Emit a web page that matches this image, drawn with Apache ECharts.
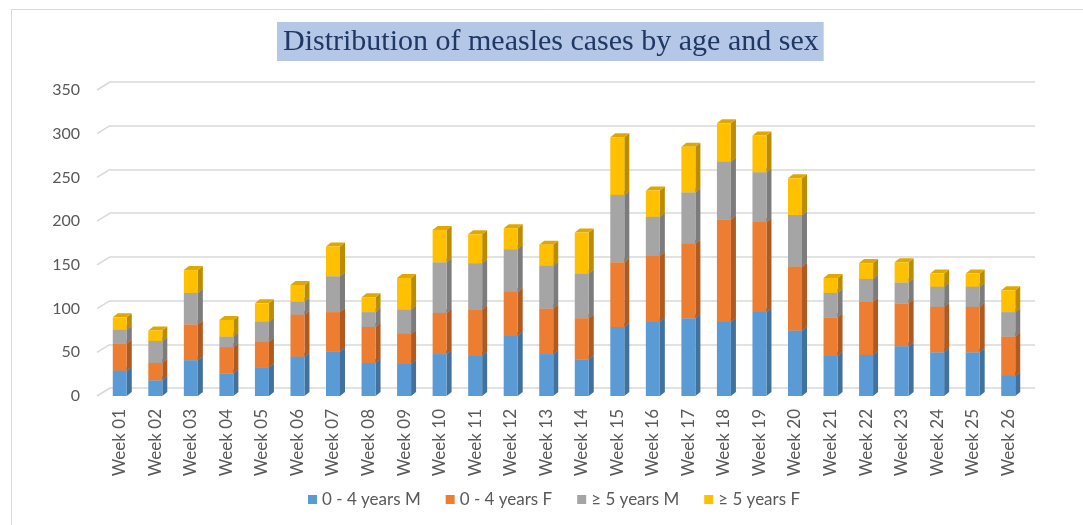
<!DOCTYPE html>
<html><head><meta charset="utf-8">
<script src="https://cdn.jsdelivr.net/npm/echarts@6/dist/echarts.min.js"></script>
<style>html,body{margin:0;padding:0;background:#fff}#c{width:1083px;height:525px}</style>
</head><body><div id="c"></div>
<script>
const categories = ['Week 01','Week 02','Week 03','Week 04','Week 05','Week 06','Week 07','Week 08','Week 09','Week 10','Week 11','Week 12','Week 13','Week 14','Week 15','Week 16','Week 17','Week 18','Week 19','Week 20','Week 21','Week 22','Week 23','Week 24','Week 25','Week 26'];
const seriesNames = ['0 - 4 years M','0 - 4 years F','≥ 5 years M','≥ 5 years F'];
const under5Male   = [29,18,41,26,33,45,51,38,37,48,46,69,48,42,79,85,89,85,96,75,46,47,57,50,50,23];
const under5Female = [31,20,41,30,29,48,45,41,34,47,53,50,52,47,74,75,85,117,103,73,44,61,49,52,52,45];
const over5Male    = [16,25,36,12,23,15,41,17,28,58,53,49,49,51,77,45,59,66,57,59,28,26,24,23,23,28];
const over5Female  = [14,12,26,19,21,19,34,17,36,37,33,24,24,47,66,30,52,44,42,42,17,18,23,15,15,25];
const yTicks = [0,50,100,150,200,250,300,350];

const seriesValues = [under5Male, under5Female, over5Male, over5Female];
const frontColors = ['#5b9bd5','#ed7d31','#a5a5a5','#ffc000'];
const sideColors  = ['#41719c','#ae5a21','#7c7c7c','#bc8c00'];
const topColors   = ['#4a86bd','#d06d29','#929292','#dea800'];
const FONT = 'Lato';

function makeRender(front, side, top) {
  return function (params, api) {
    const i = api.value(0);
    const b = api.coord([i, api.value(1)]);
    const t = api.coord([i, api.value(2)]);
    const w = 14, dx = 5, dy = 4;
    const x0 = b[0] - w / 2, x1 = b[0] + w / 2;
    return {
      type: 'group',
      children: [
        { type: 'polygon', shape: { points: [[x1, t[1]], [x1 + dx, t[1] - dy], [x1 + dx, b[1] - dy], [x1, b[1]]] }, style: { fill: side } },
        { type: 'polygon', shape: { points: [[x0, t[1]], [x0 + dx, t[1] - dy], [x1 + dx, t[1] - dy], [x1, t[1]]] }, style: { fill: top } },
        { type: 'rect', shape: { x: x0, y: t[1], width: w, height: b[1] - t[1] }, style: { fill: front } }
      ]
    };
  };
}

const base = categories.map(() => 0);
const barSeries = seriesValues.map((vals, s) => {
  const data = vals.map((v, i) => {
    const d = [i, base[i], base[i] + v, v];
    base[i] += v;
    return d;
  });
  return {
    name: seriesNames[s],
    type: 'custom',
    xAxisIndex: 0, yAxisIndex: 0,
    itemStyle: { color: frontColors[s] },
    encode: { x: 0, y: [1, 2] },
    renderItem: makeRender(frontColors[s], sideColors[s], topColors[s]),
    data: data,
    z: 3
  };
});

const stubSeries = {
  type: 'custom',
  name: 'stubs',
  silent: true,
  xAxisIndex: 0, yAxisIndex: 0,
  encode: { x: 0, y: 1 },
  renderItem: function (params, api) {
    const p = api.coord([0, api.value(1)]);
    const x = params.coordSys.x;
    return { type: 'line', shape: { x1: x - 5, y1: p[1], x2: x + 8, y2: p[1] - 8 }, style: { stroke: '#d9d9d9', lineWidth: 1.5 } };
  },
  data: yTicks.map(v => [0, v]),
  z: 1
};

const chart = echarts.init(document.getElementById('c'));
chart.setOption({
  animation: false,
  backgroundColor: '#fff',
  title: {
    text: 'Distribution of measles cases by age and sex',
    left: 277, top: 22,
    backgroundColor: '#b4c7e7',
    padding: [5, 5, 4, 6],
    textStyle: { fontFamily: 'Liberation Serif', fontSize: 30, fontWeight: 'normal', color: '#1f3864' }
  },
  graphic: [
    { type: 'rect', shape: { x: 11.5, y: 9.5, width: 1200, height: 700 }, style: { fill: 'none', stroke: '#d9d9d9', lineWidth: 1 }, silent: true, z: -10 }
  ],
  legend: {
    data: seriesNames,
    left: 303, top: 486,
    icon: 'rect', itemWidth: 9, itemHeight: 9, itemGap: 25,
    textStyle: { fontFamily: FONT, fontSize: 17, color: '#595959' }
  },
  grid: [
    { left: 102, right: 57, top: 90, bottom: 129 },
    { left: 110, right: 48, top: 82, bottom: 137 }
  ],
  xAxis: [
    {
      type: 'category', gridIndex: 0, data: categories,
      axisLine: { show: false }, axisTick: { show: false },
      axisLabel: { rotate: 90, margin: 13, fontFamily: FONT, fontSize: 17, color: '#595959', interval: 0 }
    },
    { type: 'value', gridIndex: 1, show: false, min: 0, max: 1 }
  ],
  yAxis: [
    {
      type: 'value', gridIndex: 0, min: 0, max: 350, interval: 50,
      axisLine: { show: false }, axisTick: { show: false }, splitLine: { show: false },
      axisLabel: { margin: 22, fontFamily: FONT, fontSize: 16, color: '#595959' }
    },
    {
      type: 'value', gridIndex: 1, min: 0, max: 350, interval: 50,
      axisLine: { show: false }, axisTick: { show: false }, axisLabel: { show: false },
      splitLine: { show: true, lineStyle: { color: '#d9d9d9', width: 1.5 } }
    }
  ],
  series: [stubSeries].concat(barSeries)
});
</script>
</body></html>
